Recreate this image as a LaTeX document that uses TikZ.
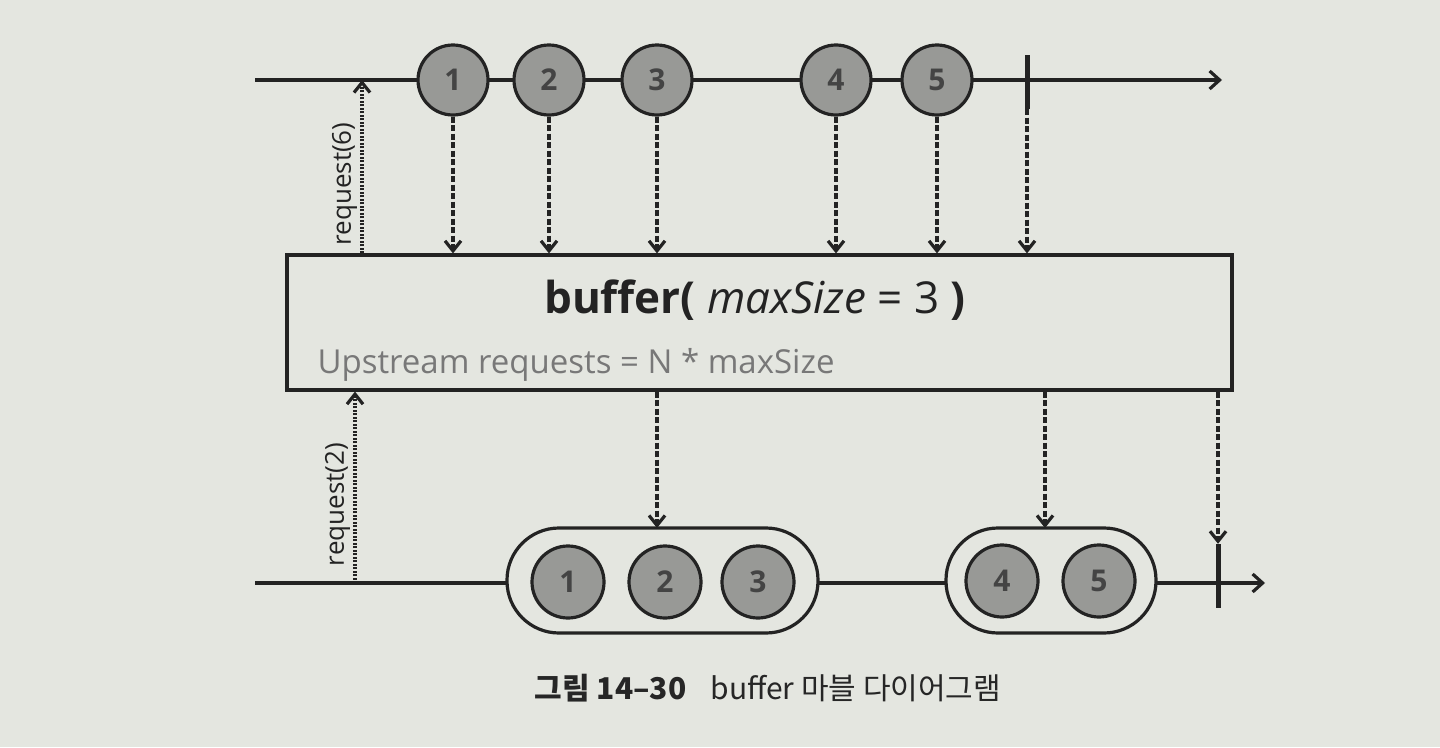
\documentclass[tikz,border=0pt]{standalone}
\usepackage{fontspec}
\setmainfont{Open Sans}
\newfontfamily\krfont{Noto Sans CJK KR}
\usetikzlibrary{arrows.meta}
\definecolor{paper}{RGB}{228,230,224}
\definecolor{marblegray}{RGB}{152,153,150}
\definecolor{numgray}{RGB}{68,68,68}
\definecolor{inkcol}{RGB}{35,35,35}
\definecolor{notegray}{RGB}{120,120,120}
\tikzset{
  marble/.style={draw=inkcol,circle,fill=marblegray,minimum size=70pt,inner sep=0pt,line width=3.2pt,text=numgray,font=\fontsize{30}{30}\selectfont\bfseries},
  pill/.style={draw=inkcol,rectangle,rounded corners=52pt,fill=paper,minimum height=105pt,line width=3.2pt},
  timeline/.style={draw=inkcol,line width=3.2pt,-{Straight Barb[length=10pt,width=18pt]}},
  endbar/.style={fill=inkcol,rectangle,minimum width=5pt,inner sep=0pt},
  dasharrow/.style={draw=inkcol,line width=3.2pt,dash pattern=on 6pt off 2.5pt,-{Straight Barb[length=10pt,width=16pt]}},
  reqarrow/.style={draw=inkcol,line width=3.2pt,dash pattern=on 2pt off 1.5pt,-{Straight Barb[length=10pt,width=16pt]}}
}
\begin{document}
\begin{tikzpicture}[x=1pt,y=-1pt]
  \fill[paper] (0,0) rectangle (1440,747);
  \useasboundingbox (0,0) rectangle (1440,747);
  % upstream
  \coordinate (tstart) at (255,80);
  \coordinate (tend) at (1222,80);
  \draw[timeline] (tstart) to (tend);
  \node[marble] (a1) at (453,80) {1};
  \node[marble] (a2) at (549,80) {2};
  \node[marble] (a3) at (657,80) {3};
  \node[marble] (a4) at (836,80) {4};
  \node[marble] (a5) at (937,80) {5};
  \node[endbar,minimum height=54pt] (tbar) at (1027,82) {};
  % operator box
  \node[draw=inkcol,line width=3.2pt,rectangle,minimum width=945pt,minimum height=135pt] (buf) at (759.5,322.5) {};
  \node[text=inkcol,font=\fontsize{44}{44}\selectfont] (title) at (755,300) {\textbf{buffer(} \textit{maxSize} = 3 \textbf{)}};
  \node[text=notegray,font=\fontsize{33}{33}\selectfont,anchor=west] (note) at (314,365) {Upstream requests = N * maxSize};
  \foreach \m in {a1,a2,a3,a4,a5,tbar}
    \draw[dasharrow] (\m.south) to (\m.south |- buf.north);
  \coordinate (r6) at (362,80);
  \draw[reqarrow] (r6 |- buf.north) to node[pos=0.4,sloped,above,text=inkcol,font=\fontsize{26}{26}\selectfont] {request(6)} (r6);
  % downstream
  \coordinate (bstart) at (255,583);
  \coordinate (bend) at (1265,583);
  \draw[timeline] (bstart) to (bend);
  \node[pill,minimum width=311pt] (p1) at (662.5,580.5) {};
  \node[pill,minimum width=210pt] (p2) at (1051,580.5) {};
  \node[marble,minimum size=72pt] (b1) at (568,582) {1};
  \node[marble,minimum size=72pt] (b2) at (665,582) {2};
  \node[marble,minimum size=72pt] (b3) at (758,582) {3};
  \node[marble,minimum size=72pt] (b4) at (1002,581) {4};
  \node[marble,minimum size=72pt] (b5) at (1099,581) {5};
  \node[endbar,minimum height=64pt] (bbar) at (1218,576) {};
  \draw[dasharrow] (buf.south -| 657,0) to (657,528);
  \draw[dasharrow] (buf.south -| 1045,0) to (1045,528);
  \draw[dasharrow] (buf.south -| bbar.north) to (bbar.north);
  \coordinate (r2) at (355,583);
  \draw[reqarrow] (r2) to node[pos=0.41,sloped,above,text=inkcol,font=\fontsize{26}{26}\selectfont] {request(2)} (r2 |- buf.south);
  % caption
  \node[text=black!85,font=\fontsize{30}{30}\selectfont] (caption) at (768,688) {{\krfont\bfseries 그림 14–30}\hspace{24pt}{\krfont buffer 마블 다이어그램}};
\end{tikzpicture}
\end{document}
